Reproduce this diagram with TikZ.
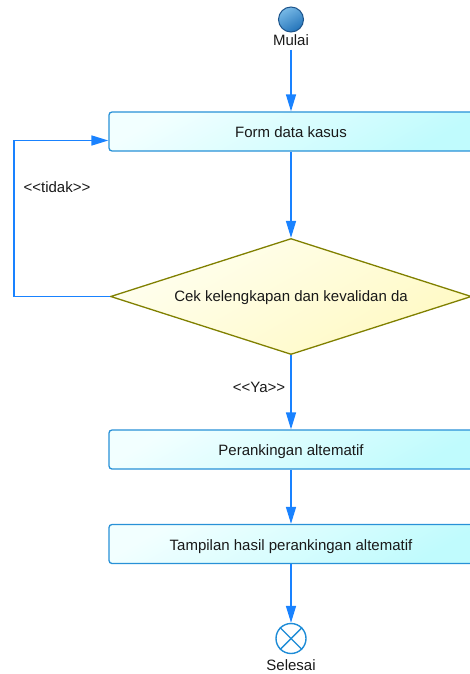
\documentclass[tikz,border=0pt]{standalone}
\usepackage{fontspec}
\setmainfont{Liberation Sans}
\usetikzlibrary{shapes.geometric,arrows.meta,calc}
\definecolor{flow}{RGB}{25,130,255}
\definecolor{boxline}{RGB}{40,145,215}
\definecolor{boxA}{RGB}{242,255,255}
\definecolor{boxB}{RGB}{192,251,253}
\definecolor{decline}{RGB}{128,128,0}
\definecolor{decA}{RGB}{255,255,240}
\definecolor{decB}{RGB}{255,249,195}
\definecolor{startA}{RGB}{120,185,230}
\definecolor{startB}{RGB}{35,115,185}
\definecolor{startline}{RGB}{30,85,140}
\definecolor{endline}{RGB}{30,140,215}
\definecolor{txt}{RGB}{25,25,25}
\begin{document}
\begin{tikzpicture}[x=1pt,y=-1pt,
  every node/.style={font=\fontsize{15}{18}\selectfont, text=txt},
  actbox/.style={draw=boxline, line width=1.3pt, rounded corners=3pt,
    minimum width=364pt, minimum height=39pt, inner sep=0pt,
    text height=12pt, text depth=0pt,
    top color=boxA, bottom color=boxB, shading angle=30},
  decision/.style={diamond, aspect=3.1, draw=decline, line width=1.3pt,
    minimum width=361pt, minimum height=116pt, inner sep=0pt,
    text height=11pt, text depth=1.5pt,
    top color=decA, bottom color=decB, shading angle=30},
  startnode/.style={circle, draw=startline, line width=1pt, minimum size=25pt,
    inner sep=0pt, top color=startA, bottom color=startB, shading angle=30},
  endnode/.style={circle, draw=endline, line width=1.4pt, minimum size=30pt,
    inner sep=0pt, fill=white},
  flowline/.style={draw=flow, line width=1.6pt, -{Triangle[length=17pt,width=10pt]}}
]
\useasboundingbox (0,0) rectangle (470,674);
\clip (0,0) rectangle (470,674);

\node[startnode] (s) at (291,19.5) {};
\node (mulai) at (291,40.5) {Mulai};
\node[actbox] (form) at (291,131.5) {Form data kasus};
\node[decision] (cek) at (291,296.5) {Cek kelengkapan dan kevalidan da};
\node[actbox] (rank) at (291,449.5) {Perankingan altematif};
\node[actbox] (tampil) at (291,544) {Tampilan hasil perankingan altematif};
\node[endnode] (e) at (291,638.5) {};
\node (selesai) at (291,665) {Selesai};
\draw[endline, line width=1.4pt] (e.north west) -- (e.south east) (e.north east) -- (e.south west);

\node (tidak) at (57,187) {<\kern0pt<tidak>\kern0pt>};
\node (ya) at (259,387) {<\kern0pt<Ya>\kern0pt>};

\draw[flowline] (mulai.south) -- (form.north);
\draw[flowline] (form) -- (cek);
\draw[flowline] (cek.west) -- ++(-96,0) |- ($(form.west)+(0,9)$);
\draw[flowline] (cek) -- (rank);
\draw[flowline] (rank) -- (tampil);
\draw[flowline] (tampil) -- (e);
\end{tikzpicture}
\end{document}
